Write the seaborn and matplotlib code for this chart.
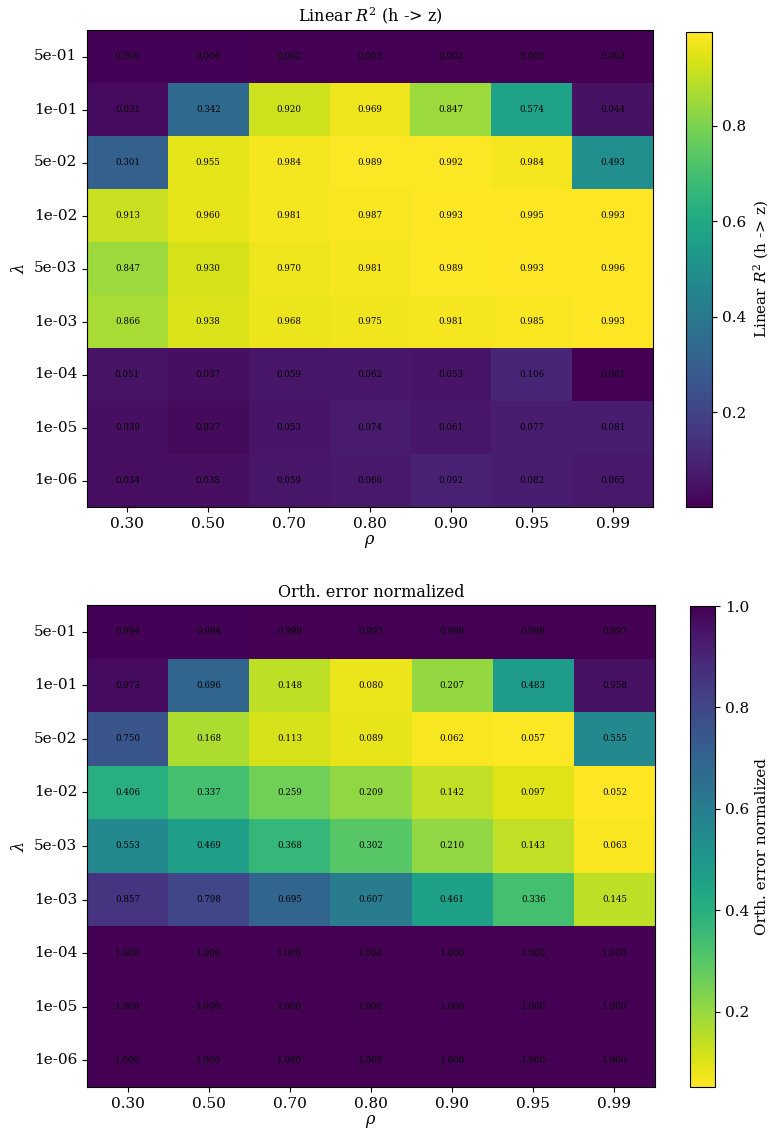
import numpy as np
import pandas as pd
import matplotlib
matplotlib.use("Agg")
import matplotlib.pyplot as plt
import seaborn as sns

rho_labels = ["0.30", "0.50", "0.70", "0.80", "0.90", "0.95", "0.99"]
lambda_labels = ["5e-01", "1e-01", "5e-02", "1e-02", "5e-03", "1e-03", "1e-04", "1e-05", "1e-06"]

r2_values = [
    [0.006, 0.006, 0.002, 0.003, 0.002, 0.003, 0.003],
    [0.031, 0.342, 0.920, 0.969, 0.847, 0.574, 0.044],
    [0.301, 0.955, 0.984, 0.989, 0.992, 0.984, 0.493],
    [0.913, 0.960, 0.981, 0.987, 0.993, 0.995, 0.993],
    [0.847, 0.930, 0.970, 0.981, 0.989, 0.993, 0.996],
    [0.866, 0.938, 0.968, 0.975, 0.981, 0.985, 0.993],
    [0.051, 0.037, 0.059, 0.062, 0.053, 0.106, 0.001],
    [0.039, 0.027, 0.053, 0.074, 0.061, 0.077, 0.081],
    [0.034, 0.038, 0.059, 0.066, 0.092, 0.082, 0.065],
]

orth_values = [
    [0.994, 0.994, 0.998, 0.997, 0.998, 0.998, 0.997],
    [0.973, 0.696, 0.148, 0.080, 0.207, 0.483, 0.958],
    [0.750, 0.168, 0.113, 0.089, 0.062, 0.057, 0.555],
    [0.406, 0.337, 0.259, 0.209, 0.142, 0.097, 0.052],
    [0.553, 0.469, 0.368, 0.302, 0.210, 0.143, 0.063],
    [0.857, 0.798, 0.695, 0.607, 0.461, 0.336, 0.145],
    [1.000, 1.000, 1.000, 1.000, 1.000, 1.000, 1.000],
    [1.000, 1.000, 1.000, 1.000, 1.000, 1.000, 1.000],
    [1.000, 1.000, 1.000, 1.000, 1.000, 1.000, 1.000],
]

sns.set_style("white")
plt.rcParams["font.family"] = ["DejaVu Serif"]
plt.rcParams["mathtext.fontset"] = "dejavuserif"
plt.rcParams["font.size"] = 11
for k in ["text.color", "axes.labelcolor", "xtick.color", "ytick.color"]:
    plt.rcParams[k] = "black"

W, H = 779, 1142
fig = plt.figure(figsize=(W / 100, H / 100), dpi=100)


def box(x0, y0, x1, y1):
    return [x0 / W, 1 - y1 / H, (x1 - x0) / W, (y1 - y0) / H]


panels = [
    (r2_values, "viridis", r"Linear $R^2$ (h -> z)", r"Linear $R^2$ (h -> z)",
     box(87, 30, 653, 507), box(686, 32, 712, 507)),
    (orth_values, "viridis_r", "Orth. error normalized", "Orth. error normalized",
     box(87, 605, 655, 1087), box(690, 606, 715, 1087)),
]

for vals, cmap, title, cbl, axpos, cbpos in panels:
    ax = fig.add_axes(axpos)
    cax = fig.add_axes(cbpos)
    df = pd.DataFrame(vals, index=lambda_labels, columns=rho_labels)
    sns.heatmap(df, ax=ax, cbar_ax=cax, cmap=cmap, annot=True, fmt=".3f",
                annot_kws={"color": "black", "fontsize": 6.2},
                cbar_kws={"label": cbl})
    ax.set_title(title, fontsize=11.5)
    ax.set_xlabel(r"$\rho$", fontsize=11.5, labelpad=2)
    ax.set_ylabel(r"$\lambda$", fontsize=11.5)
    ax.tick_params(axis="both", which="major", length=3.5, width=0.8,
                   bottom=True, left=True, labelsize=11, colors="black")
    ax.set_yticklabels(lambda_labels, rotation=0)
    ax.set_xticklabels(rho_labels, rotation=0)
    for s in ax.spines.values():
        s.set_visible(True)
        s.set_linewidth(0.8)
        s.set_color("black")
    cb = ax.collections[0].colorbar
    cb.outline.set_visible(True)
    cb.outline.set_linewidth(0.8)
    cb.outline.set_edgecolor("black")
    cax.tick_params(labelsize=11, length=3.5, width=0.8, right=True, colors="black")
    cax.yaxis.label.set_size(11)
    cax.yaxis.label.set_color("black")

fig.savefig("out.png", dpi=100)
